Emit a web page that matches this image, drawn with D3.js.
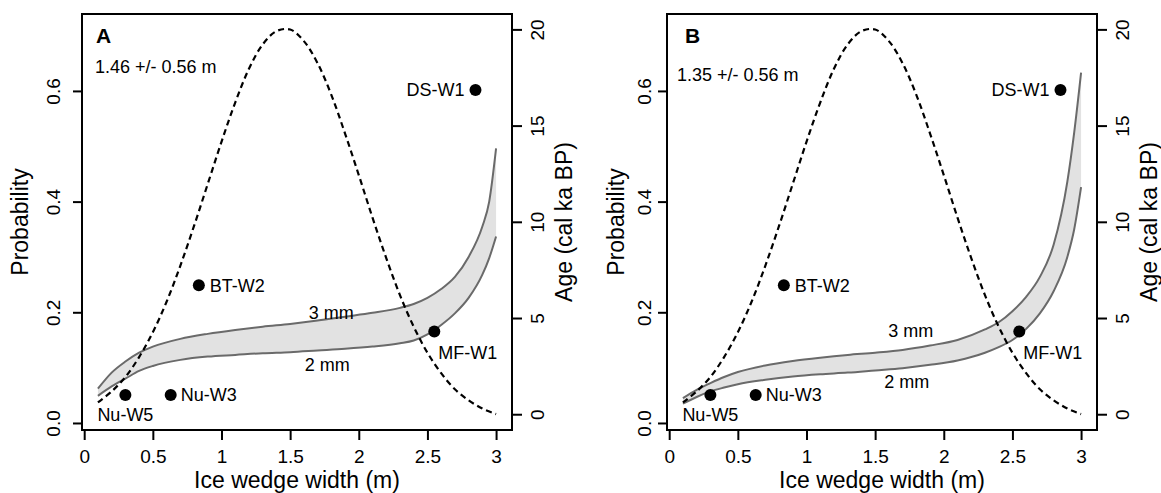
<!DOCTYPE html>
<html>
<head>
<meta charset="utf-8">
<script src="https://cdn.jsdelivr.net/npm/d3@7"></script>
<style>
  body { margin: 0; background: #fff; }
  text { font-family: "Liberation Sans", Arial, Helvetica, sans-serif; }
</style>
</head>
<body>
<svg id="chart" width="1161" height="493"></svg>
<script>
// dashed curve: width distribution (same in both panels)
const distWidth = [0.1,0.2,0.3,0.4,0.5,0.6,0.7,0.8,0.9,1.0,1.1,1.2,1.3,1.4,1.5,
                   1.6,1.7,1.8,1.9,2.0,2.1,2.2,2.3,2.4,2.5,2.6,2.7,2.8,2.9,3.0];
const distProb = [0.037,0.057,0.083,0.119,0.164,0.219,0.284,0.356,0.432,0.508,0.579,0.640,0.684,0.708,0.711,
                  0.690,0.650,0.593,0.523,0.448,0.371,0.298,0.231,0.174,0.127,0.090,0.061,0.041,0.026,0.016];

// grey band (2 mm / 3 mm)
const bandWidth = [0.1,0.2,0.3,0.4,0.5,0.7,0.9,1.1,1.3,1.5,1.7,1.9,2.1,2.3,2.4,2.5,2.6,2.7,2.8,2.9,2.95,3.0];
const upperA = [0.062,0.091,0.111,0.127,0.138,0.152,0.161,0.168,0.174,0.179,0.185,0.192,0.199,0.208,0.215,0.226,0.242,0.264,0.300,0.355,0.400,0.496];
const lowerA = [0.049,0.066,0.080,0.094,0.103,0.114,0.120,0.123,0.126,0.128,0.131,0.134,0.138,0.144,0.149,0.160,0.177,0.198,0.226,0.268,0.298,0.337];
const upperB = [0.045,0.060,0.072,0.083,0.092,0.104,0.112,0.118,0.123,0.127,0.132,0.140,0.150,0.169,0.182,0.202,0.228,0.264,0.322,0.436,0.525,0.633];
const lowerB = [0.035,0.047,0.057,0.064,0.070,0.078,0.084,0.088,0.091,0.095,0.099,0.105,0.113,0.127,0.137,0.150,0.170,0.198,0.238,0.300,0.350,0.426];

// dated ice wedges (age on right axis)
const siteNames = ["Nu-W5","Nu-W3","BT-W2","MF-W1","DS-W1"];
const siteWidth = [0.30,0.63,0.835,2.55,2.85];
const siteAge = [1.0,1.0,6.7,4.3,16.85];

const widthTicks = [0,0.5,1,1.5,2,2.5,3];
const probTicks = [0,0.2,0.4,0.6];
const ageTicks = [0,5,10,15,20];

const panels = [
  { letter: "A", stat: "1.46 +/- 0.56 m", left: 82, upper: upperA, lower: lowerA,
    statY: 67, tickOff: 29, titleOff: 62, mm3: [1.80, 0.199], mm2: [1.77, 0.105] },
  { letter: "B", stat: "1.35 +/- 0.56 m", left: 667, upper: upperB, lower: lowerB,
    statY: 75, tickOff: 23, titleOff: 51, mm3: [1.76, 0.166], mm2: [1.73, 0.075] }
];

// label placement around the dots (px)
const siteLabel = {
  "Nu-W5": { dx: -28, dy: 20, anchor: "start" },
  "Nu-W3": { dx: 10, dy: 0, anchor: "start" },
  "BT-W2": { dx: 11, dy: 0, anchor: "start" },
  "MF-W1": { dx: 4, dy: 21, anchor: "start" },
  "DS-W1": { dx: -11, dy: 0, anchor: "end" }
};

const svg = d3.select("#chart");
const plotTop = 14, plotBottom = 430, boxW = 430;

panels.forEach(function (p) {
  const g = svg.append("g");
  const right = p.left + boxW;

  const x = d3.scaleLinear().domain([-0.016, 3.116]).range([p.left, right]);
  const y = d3.scaleLinear().domain([-0.0127, 0.739]).range([plotBottom, plotTop]);
  const yAge = d3.scaleLinear().domain([-0.82, 20.8]).range([plotBottom, plotTop]);

  const band = bandWidth.map(function (w, i) { return { w: w, hi: p.upper[i], lo: p.lower[i] }; });
  const dist = distWidth.map(function (w, i) { return { w: w, v: distProb[i] }; });

  // band fill
  g.append("path")
    .datum(band)
    .attr("fill", "#e2e2e2")
    .attr("d", d3.area()
      .x(function (d) { return x(d.w); })
      .y0(function (d) { return y(d.lo); })
      .y1(function (d) { return y(d.hi); })
      .curve(d3.curveMonotoneX));

  ["hi", "lo"].forEach(function (k) {
    g.append("path")
      .datum(band)
      .attr("fill", "none")
      .attr("stroke", "#6a6a6a")
      .attr("stroke-width", 2)
      .attr("d", d3.line()
        .x(function (d) { return x(d.w); })
        .y(function (d) { return y(d[k]); })
        .curve(d3.curveMonotoneX));
  });

  // dashed distribution
  g.append("path")
    .datum(dist)
    .attr("fill", "none")
    .attr("stroke", "#000")
    .attr("stroke-width", 2.2)
    .attr("stroke-dasharray", "6,4")
    .attr("d", d3.line()
      .x(function (d) { return x(d.w); })
      .y(function (d) { return y(d.v); })
      .curve(d3.curveCatmullRom));

  // dots + labels
  siteNames.forEach(function (name, i) {
    const cx = x(siteWidth[i]), cy = yAge(siteAge[i]);
    g.append("circle").attr("cx", cx).attr("cy", cy).attr("r", 6).attr("fill", "#000");
    const l = siteLabel[name];
    g.append("text")
      .attr("x", cx + l.dx).attr("y", cy + l.dy)
      .attr("dy", "0.35em")
      .attr("text-anchor", l.anchor)
      .attr("font-size", 18)
      .text(name);
  });

  g.append("text").attr("x", x(p.mm3[0])).attr("y", y(p.mm3[1])).attr("dy", "0.35em")
    .attr("text-anchor", "middle").attr("font-size", 18).text("3 mm");
  g.append("text").attr("x", x(p.mm2[0])).attr("y", y(p.mm2[1])).attr("dy", "0.35em")
    .attr("text-anchor", "middle").attr("font-size", 18).text("2 mm");

  // panel letter + stat
  g.append("text").attr("x", p.left + (p.letter === "A" ? 14 : 18)).attr("y", 43)
    .attr("font-size", 21).attr("font-weight", "bold").text(p.letter);
  g.append("text").attr("x", p.left + (p.letter === "A" ? 13 : 10)).attr("y", p.statY)
    .attr("dy", "0.35em").attr("font-size", 18).text(p.stat);

  // axes
  function styleAxis(sel) {
    sel.select(".domain").remove();
    sel.selectAll("line").attr("stroke", "#000").attr("stroke-width", 2);
    sel.selectAll("text").attr("font-size", 19).attr("fill", "#000")
      .attr("font-family", "'Liberation Sans', Arial, sans-serif");
  }

  const ax = g.append("g")
    .attr("transform", "translate(0," + plotBottom + ")")
    .call(d3.axisBottom(x).tickValues(widthTicks).tickSize(10).tickFormat(d3.format("")));
  styleAxis(ax);
  ax.selectAll("text").attr("y", 26).attr("dy", "0.35em");

  const ayl = g.append("g")
    .attr("transform", "translate(" + p.left + ",0)")
    .call(d3.axisLeft(y).tickValues(probTicks).tickSize(9).tickFormat(d3.format(".1f")));
  styleAxis(ayl);
  ayl.selectAll("text")
    .attr("x", null).attr("dy", "0.35em").attr("text-anchor", "middle")
    .attr("transform", "translate(" + (-p.tickOff) + ",0) rotate(-90)");

  const ayr = g.append("g")
    .attr("transform", "translate(" + right + ",0)")
    .call(d3.axisRight(yAge).tickValues(ageTicks).tickSize(10).tickFormat(d3.format("d")));
  styleAxis(ayr);
  ayr.selectAll("text")
    .attr("x", null).attr("dy", "0.35em").attr("text-anchor", "middle")
    .attr("transform", "translate(25,0) rotate(-90)");

  // box
  g.append("rect")
    .attr("x", p.left).attr("y", plotTop)
    .attr("width", boxW).attr("height", plotBottom - plotTop)
    .attr("fill", "none").attr("stroke", "#000").attr("stroke-width", 2);

  // axis titles
  const midY = (plotTop + plotBottom) / 2;
  g.append("text")
    .attr("transform", "translate(" + (p.left - p.titleOff) + "," + midY + ") rotate(-90)")
    .attr("text-anchor", "middle").attr("dy", "0.35em").attr("font-size", 23)
    .text("Probability");
  g.append("text")
    .attr("transform", "translate(" + (right + 52) + "," + midY + ") rotate(-90)")
    .attr("text-anchor", "middle").attr("dy", "0.35em").attr("font-size", 23)
    .text("Age (cal ka BP)");
  g.append("text")
    .attr("x", (p.left + right) / 2).attr("y", 480)
    .attr("text-anchor", "middle").attr("dy", "0.35em").attr("font-size", 23)
    .text("Ice wedge width (m)");
});
</script>
</body>
</html>
